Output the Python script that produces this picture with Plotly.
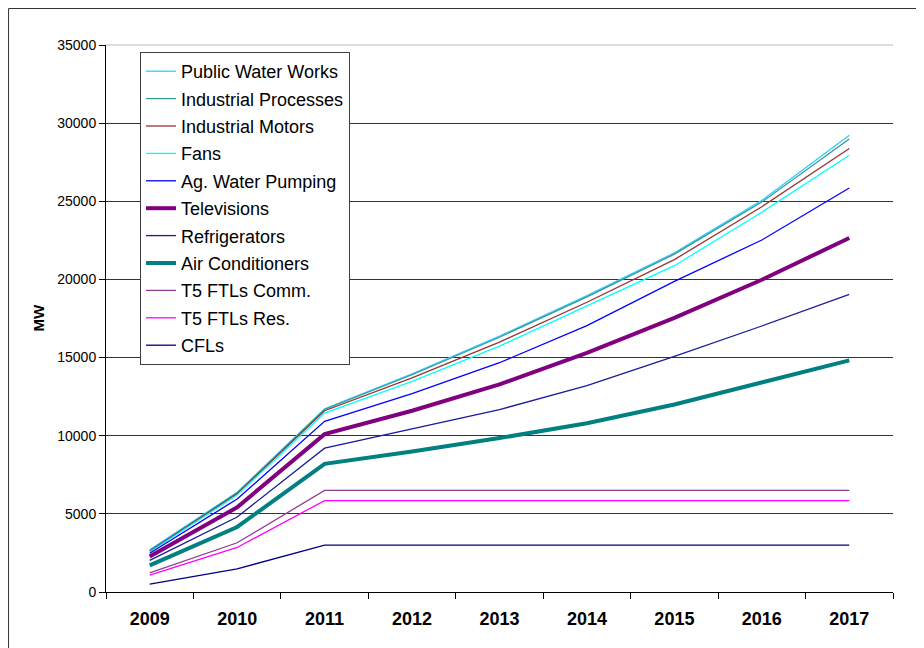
import plotly.graph_objects as go

years = ["2009", "2010", "2011", "2012", "2013", "2014", "2015", "2016", "2017"]

public_water_works = [2700, 6380, 11720, 13960, 16370, 18960, 21700, 25060, 29230]
industrial_processes = [2650, 6340, 11680, 13900, 16300, 18880, 21620, 24950, 28980]
industrial_motors = [2600, 6280, 11600, 13700, 15990, 18540, 21270, 24650, 28380]
fans = [2560, 6200, 11450, 13480, 15730, 18320, 20880, 24300, 27950]
ag_water_pumping = [2480, 5950, 10920, 12700, 14670, 17040, 19880, 22520, 25850]
televisions = [2270, 5420, 10100, 11600, 13280, 15300, 17540, 19980, 22650]
refrigerators = [2020, 4800, 9200, 10450, 11670, 13200, 15080, 17020, 19050]
air_conditioners = [1700, 4160, 8200, 8990, 9850, 10800, 12000, 13400, 14820]
t5_ftls_comm = [1220, 3150, 6500, 6500, 6500, 6500, 6500, 6500, 6500]
t5_ftls_res = [1080, 2850, 5850, 5850, 5850, 5850, 5850, 5850, 5850]
cfls = [500, 1480, 3000, 3000, 3000, 3000, 3000, 3000, 3000]

series = [
    ("Public Water Works", public_water_works, "#33CCFF", 1.3),
    ("Industrial Processes", industrial_processes, "#339999", 1.3),
    ("Industrial Motors", industrial_motors, "#993333", 1.3),
    ("Fans", fans, "#00FFFF", 1.3),
    ("Ag. Water Pumping", ag_water_pumping, "#0000FF", 1.3),
    ("Televisions", televisions, "#800080", 4),
    ("Refrigerators", refrigerators, "#1a1a99", 1.3),
    ("Air Conditioners", air_conditioners, "#008080", 4),
    ("T5 FTLs Comm.", t5_ftls_comm, "#8f3f8f", 1.3),
    ("T5 FTLs Res.", t5_ftls_res, "#FF00FF", 1.3),
    ("CFLs", cfls, "#000080", 1.3),
]

FONT = "Liberation Sans, Arial, sans-serif"

fig = go.Figure()
for i, (name, vals, color, w) in enumerate(series):
    fig.add_trace(go.Scatter(x=years, y=vals, name=name, mode="lines",
                             legendgroup="g%02d" % i,
                             line=dict(color=color, width=w)))

# page is offset by the 8px body margin
OFF = 8
W, H = 924 - OFF, 648 - OFF
L = 106 - OFF
T = 45 - OFF
R = W - (893.5 - OFF)
B = H - (592 - OFF)
pw = W - L - R
ph = H - T - B

def px_x(p):
    return (p - OFF - L) / pw

def px_y(p):
    return (H - B - (p - OFF)) / ph

fig.update_layout(
    width=W, height=H,
    margin=dict(l=L, r=R, t=T, b=B),
    paper_bgcolor="white", plot_bgcolor="white",
    font=dict(family=FONT, color="#000000"),
    showlegend=True,
    legend=dict(
        x=px_x(140), y=px_y(52), xanchor="left", yanchor="top",
        bgcolor="white", bordercolor="#404040", borderwidth=1,
        font=dict(size=18, family=FONT, color="#000000"),
        traceorder="grouped", tracegroupgap=1,
    ),
    xaxis=dict(
        type="category", tickson="boundaries", ticks="outside", ticklen=6,
        tickcolor="#000000", showline=True, linecolor="#000000", linewidth=1,
        showgrid=False, tickfont=dict(size=18, family=FONT, weight="bold"),
        ticklabelstandoff=10, range=[-0.5, 8.5],
    ),
    yaxis=dict(
        range=[0, 35000], dtick=5000, tickformat="d", ticks="outside", ticklen=6,
        tickcolor="#000000", showline=True, linecolor="#000000", linewidth=1,
        showgrid=True, gridcolor="#333333", gridwidth=1, zeroline=False,
        tickfont=dict(size=14, family=FONT),
    ),
    annotations=[
        dict(text="<b>MW</b>", x=px_x(38), y=0.5, xref="paper", yref="paper",
             textangle=-90, showarrow=False, font=dict(size=15, family=FONT),
             xanchor="center", yanchor="middle"),
    ],
    shapes=[
        dict(type="line", xref="paper", yref="paper", x0=0, x1=1, y0=1, y1=1,
             line=dict(color="#BBBBBB", width=1), layer="above"),
        dict(type="rect", xref="paper", yref="paper", x0=px_x(8.5), x1=px_x(918),
             y0=px_y(700), y1=px_y(8.5), line=dict(color="#333333", width=1),
             fillcolor="rgba(0,0,0,0)", layer="below"),
    ],
)

fig.write_html("out.html")
